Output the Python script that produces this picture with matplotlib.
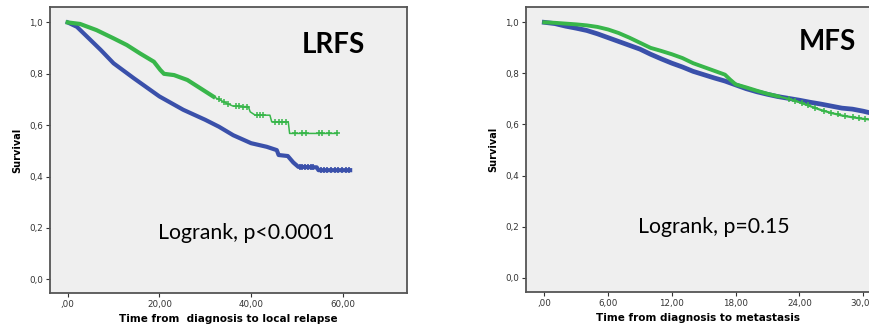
import numpy as np
import matplotlib
matplotlib.use("Agg")
import matplotlib.pyplot as plt

# ---------------- data ----------------
# LRFS panel (repeated times mark visible vertical drops)
lrfs_blue_t = [0, 2, 4.2, 7.2, 10, 14.4, 20, 25.2, 30, 33, 36.1, 40, 43.4, 45.6, 46, 48.0,
               49.2, 50.3, 54.3, 54.7, 61.6]
lrfs_blue_s = [1.0, 0.983, 0.945, 0.893, 0.841, 0.783, 0.712, 0.66, 0.621, 0.594, 0.561,
               0.53, 0.516, 0.503, 0.484, 0.48, 0.455, 0.438, 0.436, 0.425, 0.425]
lrfs_blue_cens = [50.6, 51.2, 51.8, 52.4, 53.0, 53.6, 55.2, 55.9, 56.6, 57.4, 58.2, 59.0,
                  59.8, 60.6, 61.4]

lrfs_green_t = [0, 2.7, 6.3, 10, 12.9, 15.8, 18.8, 20.2, 21, 23.2, 26.1, 29, 31.8, 34.7,
                36.1, 39.4, 39.8, 40.9, 44.1, 44.5, 48.1, 48.4, 58.7]
lrfs_green_s = [1.0, 0.994, 0.97, 0.938, 0.912, 0.879, 0.847, 0.815, 0.80, 0.795, 0.776,
                0.743, 0.711, 0.685, 0.674, 0.672, 0.652, 0.639, 0.639, 0.613, 0.613, 0.568,
                0.568]
lrfs_green_cens = [33.0, 34.0, 35.0, 36.6, 37.4, 38.2, 39.0, 41.2, 41.9, 42.6, 45.2, 46.0,
                   46.8, 47.6, 49.6, 51.0, 52.0, 54.8, 55.5, 57.0, 58.7]

# MFS panel
mfs_blue_t = [0, 1, 2, 3, 4, 5, 6, 7, 8, 9, 10, 11, 12, 13, 14, 15, 16, 17, 18, 19, 20, 21,
              22, 23, 24, 25, 26, 27, 28, 29, 30, 31]
mfs_blue_s = [1.0, 0.995, 0.985, 0.977, 0.968, 0.955, 0.94, 0.925, 0.91, 0.895, 0.875, 0.857,
              0.84, 0.825, 0.808, 0.795, 0.782, 0.77, 0.755, 0.74, 0.728, 0.718, 0.709, 0.702,
              0.695, 0.687, 0.68, 0.672, 0.664, 0.66, 0.652, 0.642]

mfs_green_t = [0, 1, 2, 3, 4, 5, 6, 7, 8, 9, 10, 11, 12, 13, 14, 15, 16, 17, 17.5, 18, 19, 20,
               21, 22, 23, 24, 25, 26, 27, 28, 29, 30, 31]
mfs_green_s = [1.0, 0.998, 0.995, 0.992, 0.988, 0.982, 0.972, 0.958, 0.94, 0.92, 0.9, 0.888,
               0.875, 0.86, 0.84, 0.825, 0.81, 0.795, 0.775, 0.757, 0.745, 0.732, 0.72, 0.71,
               0.7, 0.687, 0.672, 0.657, 0.645, 0.635, 0.628, 0.622, 0.618]
mfs_green_cens = [23.0, 23.6, 24.2, 24.8, 25.5, 26.3, 27.0, 27.6, 28.3, 29.0, 29.6, 30.2]

lrfs_xticks = [0, 20, 40, 60]
lrfs_xticklabels = [",00", "20,00", "40,00", "60,00"]
mfs_xticks = [0, 6, 12, 18, 24, 30]
mfs_xticklabels = [",00", "6,00", "12,00", "18,00", "24,00", "30,00"]
yticks = [0.0, 0.2, 0.4, 0.6, 0.8, 1.0]
yticklabels = ["0,0", "0,2", "0,4", "0,6", "0,8", "1,0"]

BLUE = "#3a50aa"
GREEN = "#38b64a"
BG = "#efefef"
SPINE = "#555555"


def curve_at(t, s, x):
    return np.interp(x, t, s)


def style_axes(ax, xticks, xlabels, xlabel, hide_right=False):
    ax.set_facecolor(BG)
    for sp in ax.spines.values():
        sp.set_color(SPINE)
        sp.set_linewidth(1.3)
    if hide_right:
        ax.spines["right"].set_visible(False)
    ax.set_xticks(xticks)
    ax.set_xticklabels(xlabels)
    ax.set_yticks(yticks)
    ax.set_yticklabels(yticklabels)
    ax.tick_params(axis="both", labelsize=6.3, colors="#333333", length=3, width=0.8,
                   direction="out", pad=2)
    ax.set_ylabel("Survival", fontsize=7, fontweight="bold", labelpad=5)
    ax.set_xlabel(xlabel, fontsize=7.5, fontweight="bold", labelpad=4)


fig = plt.figure(figsize=(8.69, 3.27), dpi=100)

# ---------------- LRFS ----------------
ax1 = fig.add_axes([50 / 869, 34 / 327, 357 / 869, 286 / 327])
ax1.set_xlim(-3.86, 74.0)
ax1.set_ylim(-0.053, 1.06)
ax1.plot(lrfs_blue_t, lrfs_blue_s, color=BLUE, lw=3.0, solid_joinstyle="round")
ax1.plot(lrfs_blue_cens, curve_at(lrfs_blue_t, lrfs_blue_s, lrfs_blue_cens), "+",
         color=BLUE, ms=5, mew=1.2)
gt = np.asarray(lrfs_green_t)
gs = np.asarray(lrfs_green_s)
ax1.plot(gt, gs, color=GREEN, lw=1.1)
m = gt <= 32
ax1.plot(gt[m], gs[m], color=GREEN, lw=3.0, solid_joinstyle="round")
ax1.plot(lrfs_green_cens, curve_at(lrfs_green_t, lrfs_green_s, lrfs_green_cens), "+",
         color=GREEN, ms=5, mew=1.1)
style_axes(ax1, lrfs_xticks, lrfs_xticklabels, "Time from  diagnosis to local relapse")
ax1.text(0.793, 0.867, "LRFS", transform=ax1.transAxes, fontsize=20, fontweight="bold",
         family="Lato", ha="center", va="center")
ax1.text(0.55, 0.21, "Logrank, p<0.0001", transform=ax1.transAxes, fontsize=15.3,
         family="Lato", ha="center", va="center")

# ---------------- MFS ----------------
ax2 = fig.add_axes([526 / 869, 35.3 / 327, 343 / 869, 284.7 / 327])
ax2.set_xlim(-1.72, 30.55)
ax2.set_ylim(-0.055, 1.06)
ax2.plot(mfs_blue_t, mfs_blue_s, color=BLUE, lw=3.4, solid_joinstyle="round")
bt = np.asarray(mfs_green_t)
bs = np.asarray(mfs_green_s)
ax2.plot(bt, bs, color=GREEN, lw=1.6)
m2 = bt <= 22
ax2.plot(bt[m2], bs[m2], color=GREEN, lw=2.8, solid_joinstyle="round")
ax2.plot(mfs_green_cens, curve_at(mfs_green_t, mfs_green_s, mfs_green_cens), "+",
         color=GREEN, ms=5, mew=1.1)
style_axes(ax2, mfs_xticks, mfs_xticklabels, "Time from diagnosis to metastasis",
           hide_right=True)
ax2.text(0.88, 0.877, "MFS", transform=ax2.transAxes, fontsize=20, fontweight="bold",
         family="Lato", ha="center", va="center")
ax2.text(0.548, 0.227, "Logrank, p=0.15", transform=ax2.transAxes, fontsize=15.3,
         family="Lato", ha="center", va="center")

fig.savefig("out.png", dpi=100)
